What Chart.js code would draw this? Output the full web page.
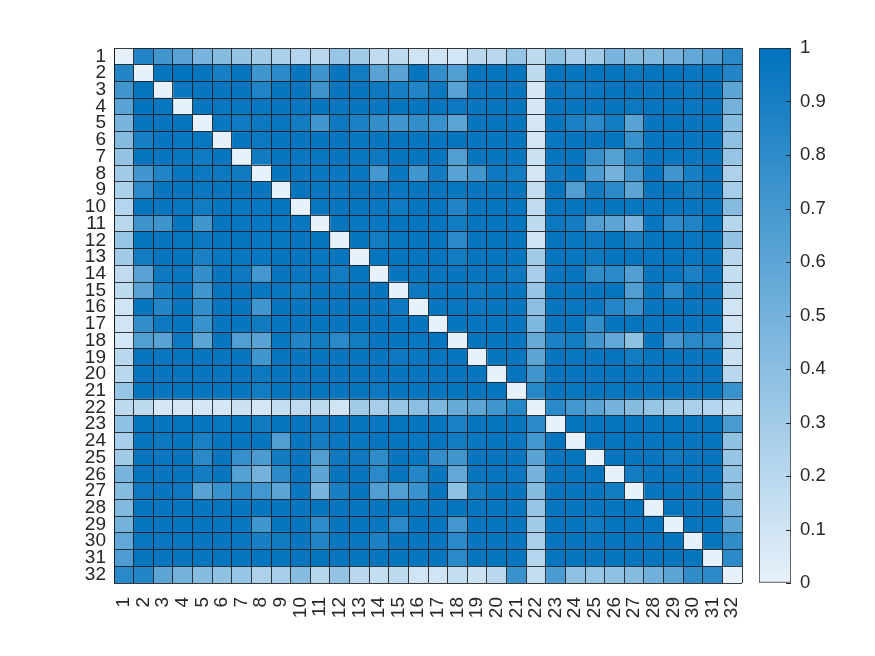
<!DOCTYPE html>
<html>
<head>
<meta charset="utf-8">
<script src="https://cdn.jsdelivr.net/npm/chart.js@4.4.1/dist/chart.umd.min.js"></script>
<style>
  html, body { margin: 0; padding: 0; background: #fff; }
  #wrap { position: relative; width: 875px; height: 656px; }
  #heat { position: absolute; left: 0; top: 0; }
  #cbar { position: absolute; left: 740px; top: 0; }
</style>
</head>
<body>
<div id="wrap">
  <canvas id="heat" width="875" height="656"></canvas>
  <canvas id="cbar" width="135" height="656"></canvas>
</div>
<script>
// Row / column labels
const rowLabels = ["1","2","3","4","5","6","7","8","9","10","11","12","13","14","15","16",
  "17","18","19","20","21","22","23","24","25","26","27","28","29","30","31","32"];
const colLabels = ["1","2","3","4","5","6","7","8","9","10","11","12","13","14","15","16",
  "17","18","19","20","21","22","23","24","25","26","27","28","29","30","31","32"];

// Colorbar ticks
const cbTicks = [0, 0.1, 0.2, 0.3, 0.4, 0.5, 0.6, 0.7, 0.8, 0.9, 1];
const cbTickLabels = ["0", "0.1", "0.2", "0.3", "0.4", "0.5", "0.6", "0.7", "0.8", "0.9", "1"];

// Matrix is symmetric with 0 on the diagonal: row r holds columns r+1..32
const upperRows = [
  [0.85,0.72,0.62,0.48,0.42,0.36,0.30,0.26,0.22,0.20,0.35,0.30,0.17,0.18,0.10,0.10,0.09,0.20,0.20,0.35,0.18,0.38,0.28,0.30,0.48,0.42,0.44,0.50,0.58,0.66,0.82],
  [0.98,0.99,0.97,0.90,0.98,0.72,0.82,0.98,0.73,0.98,0.92,0.62,0.62,0.98,0.78,0.65,0.98,0.98,0.98,0.18,0.98,0.97,0.98,0.98,0.95,0.98,0.97,0.96,0.98,0.85],
  [0.96,0.98,0.97,0.97,0.86,0.98,0.97,0.73,0.98,0.98,0.95,0.90,0.85,0.95,0.62,0.96,0.97,0.97,0.08,0.97,0.95,0.96,0.97,0.97,0.97,0.97,0.96,0.98,0.60],
  [0.98,0.96,0.96,0.96,0.97,0.96,0.97,0.96,0.98,0.96,0.98,0.98,0.98,0.95,0.97,0.98,0.98,0.08,0.98,0.97,0.98,0.98,0.95,0.98,0.97,0.96,0.97,0.50],
  [0.96,0.94,0.95,0.96,0.92,0.72,0.95,0.88,0.78,0.72,0.78,0.75,0.60,0.97,0.98,0.97,0.08,0.97,0.89,0.82,0.92,0.62,0.97,0.98,0.97,0.97,0.42],
  [0.97,0.95,0.97,0.97,0.97,0.98,0.96,0.97,0.98,0.97,0.97,0.98,0.97,0.97,0.97,0.08,0.96,0.97,0.98,0.98,0.75,0.98,0.97,0.97,0.98,0.38],
  [0.93,0.97,0.96,0.96,0.98,0.96,0.95,0.98,0.98,0.97,0.65,0.97,0.97,0.97,0.12,0.97,0.97,0.77,0.63,0.83,0.97,0.96,0.96,0.98,0.35],
  [0.97,0.96,0.96,0.96,0.96,0.70,0.96,0.72,0.93,0.62,0.72,0.95,0.92,0.08,0.93,0.97,0.67,0.50,0.71,0.98,0.72,0.90,0.98,0.25],
  [0.97,0.96,0.96,0.98,0.97,0.96,0.98,0.97,0.96,0.97,0.97,0.98,0.15,0.98,0.65,0.93,0.81,0.60,0.98,0.97,0.93,0.98,0.28],
  [0.96,0.97,0.97,0.96,0.94,0.97,0.97,0.85,0.97,0.97,0.98,0.17,0.98,0.97,0.97,0.97,0.96,0.98,0.97,0.97,0.98,0.42],
  [0.98,0.96,0.96,0.97,0.97,0.97,0.92,0.98,0.97,0.98,0.18,0.95,0.91,0.65,0.60,0.48,0.97,0.80,0.86,0.98,0.21],
  [0.97,0.92,0.96,0.97,0.97,0.82,0.97,0.97,0.97,0.10,0.98,0.96,0.95,0.98,0.90,0.98,0.97,0.96,0.98,0.36],
  [0.97,0.97,0.97,0.97,0.92,0.97,0.97,0.97,0.30,0.97,0.96,0.95,0.97,0.97,0.98,0.97,0.96,0.98,0.20],
  [0.97,0.97,0.97,0.97,0.97,0.97,0.95,0.28,0.96,0.98,0.79,0.82,0.65,0.98,0.96,0.88,0.98,0.15],
  [0.95,0.97,0.97,0.95,0.97,0.97,0.35,0.98,0.97,0.97,0.98,0.65,0.98,0.82,0.98,0.98,0.18],
  [0.97,0.96,0.96,0.97,0.97,0.40,0.98,0.96,0.96,0.84,0.75,0.98,0.97,0.97,0.98,0.10],
  [0.97,0.97,0.97,0.97,0.45,0.98,0.97,0.78,0.98,0.98,0.98,0.97,0.97,0.98,0.10],
  [0.97,0.97,0.97,0.55,0.88,0.92,0.72,0.58,0.38,0.98,0.70,0.82,0.82,0.15],
  [0.97,0.97,0.60,0.98,0.96,0.97,0.98,0.92,0.98,0.97,0.97,0.98,0.12],
  [0.97,0.72,0.98,0.97,0.97,0.97,0.97,0.98,0.97,0.97,0.98,0.20],
  [0.83,0.98,0.96,0.97,0.96,0.97,0.97,0.97,0.97,0.98,0.75],
  [0.82,0.71,0.61,0.49,0.42,0.35,0.30,0.27,0.22,0.15],
  [0.98,0.98,0.98,0.98,0.98,0.98,0.98,0.98,0.68],
  [0.98,0.98,0.98,0.98,0.98,0.98,0.98,0.38],
  [0.98,0.97,0.98,0.94,0.98,0.98,0.35],
  [0.92,0.97,0.98,0.98,0.98,0.38],
  [0.98,0.98,0.98,0.98,0.42],
  [0.98,0.98,0.98,0.51],
  [0.98,0.98,0.60],
  [0.98,0.79],
  [0.81],
  []
];

// full matrix from the upper triangle
const matrix = rowLabels.map((_, r) => colLabels.map((_, c) => {
  if (r === c) return 0;
  return r < c ? upperRows[r][c - r - 1] : upperRows[c][r - c - 1];
}));

const lo = [231, 241, 250];
const hi = [0, 114, 189];
const cellColor = (v) => {
  const mix = (i) => Math.round(lo[i] + (hi[i] - lo[i]) * v);
  return `rgb(${mix(0)}, ${mix(1)}, ${mix(2)})`;
};

const textColor = "#262626";
const lineColor = "rgba(25, 25, 25, 0.85)";
const font = { family: "'Liberation Sans', Arial, sans-serif", size: 19 };
const cbFont = { family: "'Liberation Sans', Arial, sans-serif", size: 18.5 };

// Heatmap: horizontal stacked bars, one dataset per column
const datasets = colLabels.map((c, j) => ({
  label: c,
  data: rowLabels.map(() => 1),
  backgroundColor: matrix.map((row) => cellColor(row[j])),
  borderWidth: 0,
  barPercentage: 1,
  categoryPercentage: 1,
  stack: "cells",
}));

new Chart(document.getElementById("heat"), {
  type: "bar",
  data: { labels: rowLabels, datasets: datasets },
  options: {
    indexAxis: "y",
    responsive: false,
    animation: false,
    events: [],
    layout: { padding: { left: 0, top: 48, right: 133, bottom: 0 } },
    plugins: { legend: { display: false }, tooltip: { enabled: false } },
    scales: {
      x: {
        type: "linear",
        position: "bottom",
        stacked: true,
        min: 0,
        max: colLabels.length,
        afterBuildTicks: (s) => { s.ticks = colLabels.map((_, i) => ({ value: i + 0.5 })); },
        afterFit: (s) => { s.height = 73; },
        grid: { display: false },
        border: { display: false },
        ticks: {
          autoSkip: false, minRotation: 90, maxRotation: 90, padding: 6,
          color: textColor, font: font,
          callback: (v, i) => colLabels[i],
        },
      },
      xg: {
        type: "linear",
        position: "top",
        min: 0,
        max: colLabels.length,
        afterBuildTicks: (s) => {
          s.ticks = colLabels.map((_, i) => ({ value: i })).concat([{ value: colLabels.length }]);
        },
        afterFit: (s) => { s.height = 0; },
        grid: { color: lineColor, lineWidth: 1, z: 1, drawTicks: false },
        border: { display: false },
        ticks: { display: false },
      },
      y: {
        type: "category",
        stacked: true,
        offset: true,
        afterFit: (s) => { s.width = 114; },
        grid: { offset: true, color: lineColor, lineWidth: 1, z: 1, drawTicks: false },
        border: { display: true, color: lineColor, z: 1 },
        ticks: { autoSkip: false, padding: 8, color: textColor, font: font },
      },
    },
  },
});

// Colorbar
const cbTickMarks = {
  id: "cbTickMarks",
  afterDatasetsDraw(chart) {
    const s = chart.scales.y;
    const ca = chart.chartArea;
    const ctx = chart.ctx;
    ctx.save();
    ctx.strokeStyle = textColor;
    ctx.lineWidth = 1;
    ctx.beginPath();
    cbTicks.forEach((v) => {
      const y = Math.round(s.getPixelForValue(v)) + 0.5;
      ctx.moveTo(ca.right - 5, y);
      ctx.lineTo(ca.right, y);
    });
    ctx.stroke();
    ctx.restore();
  },
};

new Chart(document.getElementById("cbar"), {
  type: "bar",
  data: {
    labels: [""],
    datasets: [{
      data: [[0, 1]],
      backgroundColor: (ctx) => {
        const ca = ctx.chart.chartArea;
        if (!ca) return cellColor(1);
        const g = ctx.chart.ctx.createLinearGradient(0, ca.bottom, 0, ca.top);
        g.addColorStop(0, cellColor(0));
        g.addColorStop(1, cellColor(1));
        return g;
      },
      borderColor: textColor,
      borderWidth: 1,
      borderSkipped: false,
      barPercentage: 1,
      categoryPercentage: 1,
    }],
  },
  options: {
    responsive: false,
    animation: false,
    events: [],
    layout: { padding: { left: 19, top: 48, right: 0, bottom: 73 } },
    plugins: { legend: { display: false }, tooltip: { enabled: false } },
    scales: {
      x: { display: false },
      y: {
        position: "right",
        min: 0,
        max: 1,
        afterBuildTicks: (s) => { s.ticks = cbTicks.map((v) => ({ value: v })); },
        afterFit: (s) => { s.width = 84; },
        grid: { drawOnChartArea: false, drawTicks: false },
        border: { display: false },
        ticks: { padding: 9, color: textColor, font: cbFont, callback: (v, i) => cbTickLabels[i] },
      },
    },
  },
  plugins: [cbTickMarks],
});
</script>
</body>
</html>
